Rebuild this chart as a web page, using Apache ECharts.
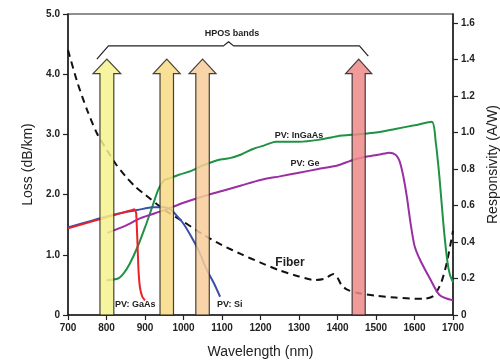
<!DOCTYPE html>
<html><head><meta charset="utf-8">
<script src="https://cdn.jsdelivr.net/npm/echarts@6/dist/echarts.min.js"></script>
<style>html,body{margin:0;padding:0;background:#fff}#c{width:500px;height:362px}</style>
</head><body><div id="c"></div>
<script>
// ---- data ----
const xTicks = [700, 800, 900, 1000, 1100, 1200, 1300, 1400, 1500, 1600, 1700];
const lossTicks = [0, 1, 2, 3, 4, 5];
const respTicks = [0, 0.2, 0.4, 0.6, 0.8, 1.0, 1.2, 1.4, 1.6];

const fiberWl   = [700,725,750,775,800,825,850,875,900,950,1000,1050,1100,1150,1200,1250,1300,1340,1365,1390,1400,1410,1425,1450,1500,1550,1600,1625,1650,1670,1685,1700];
const fiberLoss = [4.40,3.85,3.40,3.02,2.75,2.50,2.30,2.13,2.00,1.75,1.55,1.34,1.16,1.01,0.87,0.74,0.64,0.58,0.60,0.68,0.62,0.50,0.42,0.37,0.32,0.29,0.27,0.27,0.32,0.55,0.90,1.40];

const ingaasWl  = [800,830,845,860,880,900,920,935,950,965,990,1020,1050,1090,1120,1150,1180,1210,1240,1300,1350,1400,1450,1500,1550,1600,1645,1655,1665,1675,1685,1692,1700];
const ingaasR   = [0.19,0.20,0.23,0.28,0.37,0.48,0.60,0.69,0.74,0.75,0.77,0.79,0.82,0.85,0.86,0.88,0.91,0.93,0.95,0.95,0.96,0.98,0.99,1.00,1.02,1.04,1.06,0.95,0.75,0.50,0.30,0.22,0.18];

const geWl      = [802,850,887,950,1000,1050,1100,1150,1200,1250,1300,1350,1400,1440,1480,1510,1535,1550,1560,1570,1580,1590,1600,1615,1640,1665,1700];
const geR       = [0.45,0.49,0.53,0.575,0.615,0.65,0.68,0.71,0.74,0.76,0.78,0.80,0.82,0.85,0.87,0.88,0.89,0.88,0.85,0.77,0.65,0.50,0.38,0.30,0.20,0.11,0.08];

const siWl      = [700,750,800,850,880,920,950,965,980,1000,1020,1040,1060,1080,1095];
const siR       = [0.48,0.51,0.54,0.565,0.575,0.59,0.59,0.58,0.55,0.50,0.43,0.35,0.25,0.17,0.10];

const gaasWl    = [700,750,800,840,865,872,877,880,883,887,893,900];
const gaasR     = [0.475,0.505,0.535,0.56,0.575,0.58,0.56,0.42,0.25,0.15,0.10,0.08];

// HPOS bands (nm start, nm end)
const bandStart = [783, 939, 1032, 1438];
const bandEnd   = [819, 974, 1067, 1472];
const arrowTipLoss = 4.25;
const arrowHeadLoss = 4.01;

// brace above the bands (wavelength, loss)
const braceWl   = [775, 805, 1104, 1117, 1130, 1457, 1480];
const braceLoss = [4.25, 4.47, 4.47, 4.54, 4.47, 4.47, 4.30];

// ---- styles ----
const bandColors = ['#f6f28e', '#f8da84', '#f9cc9a', '#ef8888'];
const FONT = 'Liberation Sans, Arial, sans-serif';
const zip = (a, b) => a.map((v, i) => [v, b[i]]);

const chart = echarts.init(document.getElementById('c'));
const lineS = (name, x, y, color, yi, extra) => Object.assign({
  name, type: 'line', data: zip(x, y), yAxisIndex: yi, showSymbol: false, smooth: 0.25,
  lineStyle: { color, width: 2 }, z: 2, silent: true, animation: false
}, extra || {});

chart.setOption({
  animation: false,
  grid: { left: 68, right: 47, top: 14, bottom: 47, show: true, borderColor: '#222', borderWidth: 1.2,
          containLabel: false, outerBoundsMode: 'none' },
  xAxis: {
    type: 'value', min: 700, max: 1700, interval: 100,
    name: 'Wavelength (nm)', nameLocation: 'middle', nameGap: 30,
    nameTextStyle: { fontFamily: FONT, fontSize: 14, color: '#222' },
    axisLine: { lineStyle: { color: '#222', width: 1.5 } },
    axisTick: { length: 5, lineStyle: { color: '#222', width: 1.2 } },
    axisLabel: { fontFamily: FONT, fontWeight: 'bold', fontSize: 10, color: '#222', margin: 8,
      formatter: v => xTicks.includes(v) ? String(v) : '' },
    splitLine: { show: false }
  },
  yAxis: [{
    type: 'value', min: 0, max: 5, interval: 1, position: 'left',
    name: 'Loss (dB/km)', nameLocation: 'middle', nameGap: 29,
    nameTextStyle: { fontFamily: FONT, fontSize: 14, color: '#222' },
    axisLine: { show: true, lineStyle: { color: '#222', width: 1.5 } },
    axisTick: { show: true, length: 5, lineStyle: { color: '#222', width: 1.2 } },
    axisLabel: { fontFamily: FONT, fontWeight: 'bold', fontSize: 10, color: '#222', margin: 8,
      formatter: v => lossTicks.includes(v) ? (v === 0 ? '0' : v.toFixed(1)) : '' },
    splitLine: { show: false }
  }, {
    type: 'value', min: 0, max: 1.65, interval: 0.2, position: 'right',
    name: 'Responsivity (A/W)', nameLocation: 'middle', nameGap: 31,
    nameTextStyle: { fontFamily: FONT, fontSize: 14, color: '#222' },
    axisLine: { show: true, lineStyle: { color: '#222', width: 1.5 } },
    axisTick: { show: true, length: 5, lineStyle: { color: '#222', width: 1.2 } },
    axisLabel: { fontFamily: FONT, fontWeight: 'bold', fontSize: 10, color: '#222', margin: 8, showMaxLabel: false,
      formatter: v => { const t = respTicks.find(r => Math.abs(r - v) < 1e-6); return t === undefined ? '' : (t === 0 ? '0' : t.toFixed(1)); } },
    splitLine: { show: false }
  }],
  series: [
    lineS('Fiber', fiberWl, fiberLoss, '#111', 0, { lineStyle: { color: '#111', width: 2, type: [7, 5] } }),
    lineS('PV: InGaAs', ingaasWl, ingaasR, '#1f9244', 1),
    lineS('PV: Ge', geWl, geR, '#9a2fa3', 1),
    lineS('PV: Si', siWl, siR, '#3b4fa6', 1),
    lineS('PV: GaAs', gaasWl, gaasR, '#ec2226', 1, { smooth: 0.1 }),
    lineS('brace', braceWl, braceLoss, '#222', 0, { smooth: false, lineStyle: { color: '#222', width: 1.2 } }),
    {
      type: 'custom', name: 'HPOS', yAxisIndex: 0, z: 5, silent: true,
      data: bandStart.map((s, i) => [s, bandEnd[i], i]),
      encode: { x: [0, 1] },
      renderItem: (params, api) => {
        const xa = api.coord([api.value(0), 0]);
        const xb = api.coord([api.value(1), 0]);
        const tip = api.coord([0, arrowTipLoss])[1];
        const hb = api.coord([0, arrowHeadLoss])[1];
        const x0 = xa[0], x1 = xb[0], bot = xa[1];
        const ov = (x1 - x0) / 2;
        return {
          type: 'polygon',
          shape: { points: [[x0, bot], [x0, hb], [x0 - ov, hb], [(x0 + x1) / 2, tip], [x1 + ov, hb], [x1, hb], [x1, bot]] },
          style: { fill: bandColors[api.value(2)], opacity: 0.85, stroke: '#222', lineWidth: 1.2 }
        };
      }
    }
  ],
  graphic: [
    { type: 'text', style: { text: 'HPOS bands', x: 232, y: 34, align: 'center', verticalAlign: 'middle', font: 'bold 9px ' + FONT, fill: '#222' }, z: 10 },
    { type: 'text', style: { text: 'PV: InGaAs', x: 299, y: 136, align: 'center', verticalAlign: 'middle', font: 'bold 9px ' + FONT, fill: '#222' }, z: 10 },
    { type: 'text', style: { text: 'PV: Ge', x: 305, y: 164, align: 'center', verticalAlign: 'middle', font: 'bold 9px ' + FONT, fill: '#222' }, z: 10 },
    { type: 'text', style: { text: 'Fiber', x: 290, y: 263, align: 'center', verticalAlign: 'middle', font: 'bold 12px ' + FONT, fill: '#222' }, z: 10 },
    { type: 'text', style: { text: 'PV: GaAs', x: 115, y: 305, align: 'left', verticalAlign: 'middle', font: 'bold 9px ' + FONT, fill: '#222' }, z: 10 },
    { type: 'text', style: { text: 'PV: Si', x: 217, y: 305, align: 'left', verticalAlign: 'middle', font: 'bold 9px ' + FONT, fill: '#222' }, z: 10 }
  ]
});
</script></body></html>
